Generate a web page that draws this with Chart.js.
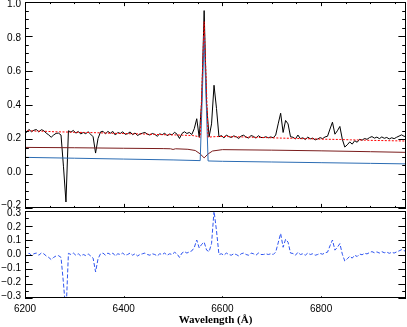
<!DOCTYPE html>
<html>
<head>
<meta charset="utf-8">
<script src="https://cdn.jsdelivr.net/npm/chart.js"></script>
<style>
  html, body { margin: 0; padding: 0; background: #fff; }
  #wrap { position: relative; width: 407px; height: 327px; }
  #wrap canvas { position: absolute; left: 0; top: 0; }
</style>
</head>
<body>
<div id="wrap">
  <canvas id="specChart" width="407" height="327"></canvas>
  <canvas id="resChart" width="407" height="327"></canvas>
</div>
<script>
// tick labels
const xTicks = [6200, 6400, 6600, 6800];
const specTicks = [-0.2, 0.0, 0.2, 0.4, 0.6, 0.8, 1.0];
const resTicks = [-0.3, -0.2, -0.1, 0.0, 0.1, 0.2, 0.3];

// observed spectrum, sampled every 5 A starting at 6198 A
const specStart = 6198;
const specStep = 5;
const specFlux = [
  0.250, 0.240, 0.258, 0.244, 0.253, 0.257, 0.243, 0.256, 0.251, 0.236,
  0.226, 0.212, 0.225, 0.235, 0.236, 0.225, 0.040, -0.165, 0.250, 0.242,
  0.252, 0.236, 0.246, 0.231, 0.240, 0.233, 0.244, 0.230, 0.215, 0.120,
  0.205, 0.243, 0.247, 0.232, 0.246, 0.236, 0.246, 0.225, 0.240, 0.234,
  0.244, 0.229, 0.233, 0.243, 0.227, 0.237, 0.222, 0.231, 0.236, 0.240,
  0.230, 0.225, 0.234, 0.229, 0.218, 0.232, 0.227, 0.236, 0.221, 0.231,
  0.226, 0.241, 0.230, 0.205, 0.234, 0.244, 0.234, 0.240, 0.228, 0.262,
  0.320, 0.212, 0.420, 0.950, 0.400, 0.215, 0.290, 0.515, 0.380, 0.215,
  0.222, 0.208, 0.225, 0.216, 0.211, 0.220, 0.215, 0.205, 0.219, 0.224,
  0.213, 0.208, 0.222, 0.217, 0.207, 0.221, 0.211, 0.210, 0.215, 0.209,
  0.214, 0.209, 0.225, 0.290, 0.352, 0.240, 0.310, 0.290, 0.215, 0.212,
  0.202, 0.225, 0.204, 0.209, 0.199, 0.213, 0.203, 0.207, 0.197, 0.202,
  0.210, 0.204, 0.214, 0.218, 0.260, 0.300, 0.230, 0.250, 0.275, 0.200,
  0.155, 0.168, 0.185, 0.172, 0.192, 0.183, 0.200, 0.195, 0.205, 0.200,
  0.210, 0.216, 0.207, 0.213, 0.204, 0.214, 0.206, 0.211, 0.202, 0.209,
  0.204, 0.212, 0.219, 0.226, 0.218, 0.214
];
// residual (data - model) on the same grid
const residual = [
  0.000, -0.010, 0.010, -0.005, 0.005, 0.010, -0.005, 0.010, 0.005, -0.010,
  -0.020, -0.035, -0.020, -0.010, -0.008, -0.020, -0.200, -0.410, 0.008, 0.000,
  0.010, -0.005, 0.005, -0.010, 0.000, -0.007, 0.004, -0.010, -0.025, -0.120,
  -0.030, 0.005, 0.010, -0.005, 0.010, 0.000, 0.010, -0.010, 0.005, 0.000,
  0.010, -0.005, 0.000, 0.010, -0.005, 0.005, -0.010, 0.000, 0.005, 0.010,
  0.000, -0.005, 0.005, 0.000, -0.010, 0.005, 0.000, 0.010, -0.005, 0.005,
  0.000, 0.015, 0.005, -0.020, 0.010, 0.020, 0.010, 0.018, 0.025, 0.048,
  0.100, 0.045, 0.070, 0.085, 0.030, 0.020, 0.075, 0.300, 0.165, 0.000,
  0.005, -0.005, 0.010, 0.000, -0.005, 0.005, 0.000, -0.010, 0.005, 0.010,
  0.000, -0.005, 0.010, 0.005, -0.005, 0.010, 0.000, 0.000, 0.005, 0.000,
  0.005, 0.000, 0.017, 0.080, 0.145, 0.050, 0.105, 0.085, 0.010, 0.007,
  -0.005, 0.015, 0.000, 0.005, -0.005, 0.010, 0.000, 0.005, -0.005, 0.000,
  0.007, 0.002, 0.012, 0.016, 0.060, 0.100, 0.030, 0.050, 0.075, 0.002,
  -0.045, -0.030, -0.012, -0.025, -0.005, -0.014, 0.003, -0.002, 0.008, 0.004,
  0.013, 0.020, 0.012, 0.018, 0.010, 0.020, 0.012, 0.017, 0.008, 0.015,
  0.010, 0.018, 0.025, 0.033, 0.026, 0.022
];

// total model (red dotted)
const modelWave = [6198, 6220, 6240, 6260, 6280, 6300, 6320, 6340, 6360, 6380, 6400, 6420, 6440, 6460, 6480,
  6500, 6520, 6540, 6550, 6555, 6563, 6571, 6580, 6600, 6620, 6640, 6660, 6680, 6700, 6720, 6740,
  6760, 6780, 6800, 6820, 6840, 6860, 6880, 6900, 6920, 6940, 6973];
const modelFlux = [0.252, 0.248, 0.247, 0.244, 0.243, 0.241, 0.240, 0.239, 0.237, 0.235, 0.234, 0.232, 0.231, 0.229, 0.227,
  0.226, 0.224, 0.222, 0.217, 0.212, 0.885, 0.212, 0.215, 0.217, 0.215, 0.214, 0.212, 0.211, 0.209, 0.207, 0.206,
  0.204, 0.203, 0.201, 0.200, 0.199, 0.197, 0.196, 0.194, 0.193, 0.192, 0.190];

// stellar component (dark red)
const starWave = [6198, 6300, 6400, 6480, 6495, 6500, 6505, 6530, 6545, 6555, 6563, 6571, 6580, 6600, 6700, 6800, 6900, 6973];
const starFlux = [0.153, 0.151, 0.148, 0.146, 0.145, 0.141, 0.145, 0.142, 0.135, 0.115, 0.092, 0.115, 0.132, 0.140, 0.137, 0.133, 0.128, 0.124];

// power law + emission component (blue)
const agnWave = [6198, 6300, 6400, 6500, 6555, 6563, 6571, 6600, 6700, 6800, 6900, 6973];
const agnFlux = [0.095, 0.090, 0.085, 0.080, 0.076, 0.800, 0.074, 0.072, 0.068, 0.064, 0.060, 0.057];

const specWave = specFlux.map((_, i) => specStart + i * specStep);
const xy = (xs, ys) => xs.map((x, i) => ({ x: x, y: ys[i] }));

const tickFont = { family: "'Liberation Sans', Arial, Helvetica, sans-serif", size: 10 };
const fmt = v => (Math.abs(v) < 1e-9 ? '0.0' : v.toFixed(1).replace('-', '\u2212'));
// label slots pulled slightly toward the panel centre, like the IDL character placement
const setTicks = (list, mid, squeeze) => s => {
  s.ticks = list.map(v => ({ value: mid + (v - mid) * squeeze }));
};

// IDL-like frame with inward ticks on all four sides
const idlFrame = {
  id: 'idlFrame',
  afterDatasetsDraw(chart, args, o) {
    const { ctx, chartArea: a } = chart;
    const x = chart.scales.x, y = chart.scales.y;
    const xLen = 0.02 * (a.bottom - a.top);
    const yLen = 0.02 * (a.right - a.left);
    ctx.save();
    ctx.strokeStyle = '#000';
    ctx.lineWidth = 1;
    ctx.beginPath();
    for (let v = 6200; v <= x.max; v += 50) {
      const l = v % 200 === 0 ? xLen : xLen / 2;
      const px = Math.round(x.getPixelForValue(v)) + 0.5;
      ctx.moveTo(px, a.bottom); ctx.lineTo(px, a.bottom - l);
      ctx.moveTo(px, a.top); ctx.lineTo(px, a.top + l);
    }
    const k0 = Math.ceil(y.min / o.yMinor - 1e-6), k1 = Math.floor(y.max / o.yMinor + 1e-6);
    for (let k = k0; k <= k1; k++) {
      const v = k * o.yMinor;
      const l = k % o.perMajor === 0 ? yLen : yLen / 2;
      const py = Math.round(y.getPixelForValue(v)) + 0.5;
      ctx.moveTo(a.left, py); ctx.lineTo(a.left + l, py);
      ctx.moveTo(a.right, py); ctx.lineTo(a.right - l, py);
    }
    ctx.stroke();
    ctx.strokeRect(a.left + 0.5, a.top + 0.5, a.right - a.left - 1, a.bottom - a.top - 1);
    ctx.restore();
  }
};

const noPad = s => { s.paddingTop = 0; s.paddingBottom = 0; s.paddingLeft = 0; s.paddingRight = 0; };

new Chart(document.getElementById('specChart'), {
  type: 'line',
  data: {
    datasets: [
      { data: xy(modelWave, modelFlux), borderColor: '#ff0000', borderWidth: 1, borderDash: [2, 1.5], order: 1 },
      { data: xy(agnWave, agnFlux), borderColor: '#2b6cb3', borderWidth: 1, order: 2 },
      { data: xy(starWave, starFlux), borderColor: '#7a1c1c', borderWidth: 1, order: 3 },
      { data: xy(specWave, specFlux), borderColor: '#000000', borderWidth: 1, order: 4 }
    ]
  },
  options: {
    responsive: false,
    animation: false,
    events: [],
    layout: { padding: { top: 2, right: 1, left: 0, bottom: 119 } },
    elements: { point: { radius: 0 }, line: { tension: 0 } },
    plugins: { legend: { display: false }, tooltip: { enabled: false }, idlFrame: { yMinor: 0.05, perMajor: 4 } },
    scales: {
      x: { type: 'linear', min: 6200, max: 6972, display: false },
      y: {
        min: -0.2, max: 1.0,
        grid: { display: false, drawTicks: false },
        border: { display: false },
        ticks: { autoSkip: false, padding: 4, color: '#000', font: tickFont, callback: (v, i) => fmt(specTicks[i]) },
        afterBuildTicks: setTicks(specTicks, 0.4, 0.978),
        afterFit: s => { s.width = 25; noPad(s); }
      }
    }
  },
  plugins: [idlFrame]
});

new Chart(document.getElementById('resChart'), {
  type: 'line',
  data: {
    datasets: [
      { data: xy(specWave, residual), borderColor: '#2f55f0', borderWidth: 1, borderDash: [4, 2] }
    ]
  },
  options: {
    responsive: false,
    animation: false,
    events: [],
    layout: { padding: { top: 211, right: 1, left: 0, bottom: 0 } },
    elements: { point: { radius: 0 }, line: { tension: 0 } },
    plugins: { legend: { display: false }, tooltip: { enabled: false }, idlFrame: { yMinor: 0.05, perMajor: 2 } },
    scales: {
      x: {
        type: 'linear', min: 6200, max: 6972,
        grid: { display: false, drawTicks: false },
        border: { display: false },
        ticks: { autoSkip: false, padding: 5, color: '#000', font: tickFont, maxRotation: 0,
          callback: (v, i) => String(xTicks[i]) },
        afterBuildTicks: setTicks(xTicks, 6200, 1),
        title: { display: true, text: 'Wavelength (\u00C5)', color: '#000', padding: 0,
          font: { family: "'Liberation Serif', 'Times New Roman', serif", size: 11, weight: 'bold' } },
        afterFit: s => { s.height = 29; noPad(s); }
      },
      y: {
        min: -0.3, max: 0.3,
        grid: { display: false, drawTicks: false },
        border: { display: false },
        ticks: { autoSkip: false, padding: 4, color: '#000', font: tickFont, callback: (v, i) => fmt(resTicks[i]) },
        afterBuildTicks: setTicks(resTicks, 0, 0.95),
        afterFit: s => { s.width = 25; noPad(s); }
      }
    }
  },
  plugins: [idlFrame]
});
</script>
</body>
</html>
